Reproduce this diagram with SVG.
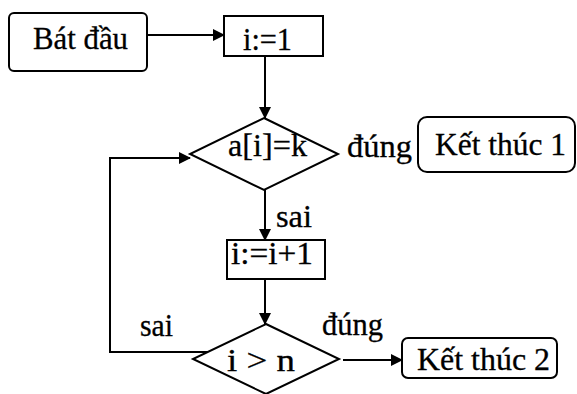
<svg xmlns="http://www.w3.org/2000/svg" width="577" height="394" viewBox="0 0 577 394">
<defs>
<marker id="ah" markerWidth="12" markerHeight="12" refX="11" refY="6" orient="auto" markerUnits="userSpaceOnUse">
<path d="M0,0 L12,6 L0,12 Z" fill="#000"/>
</marker>
<style>
.box{fill:#fff;stroke:#000;stroke-width:2}
.ln{fill:none;stroke:#000;stroke-width:2}
text{font-family:"Liberation Serif","Times New Roman",serif;font-size:31px;fill:#000;stroke:#000;stroke-width:0.3}
</style>
</defs>
<rect width="577" height="394" fill="#fff"/>
<g id="connectors">
<line class="ln" x1="147" y1="35" x2="224" y2="35" marker-end="url(#ah)"/>
<line class="ln" x1="265" y1="56" x2="265" y2="118" marker-end="url(#ah)"/>
<line class="ln" x1="265" y1="190" x2="265" y2="240" marker-end="url(#ah)"/>
<line class="ln" x1="265" y1="279" x2="265" y2="324" marker-end="url(#ah)"/>
<polyline class="ln" points="212,352 110,352 110,158 190,158" marker-end="url(#ah)"/>
<line class="ln" x1="343" y1="360" x2="402" y2="360" marker-end="url(#ah)"/>
<text x="347" y="157" textLength="65" lengthAdjust="spacingAndGlyphs">đúng</text>
<text x="276" y="227" textLength="36" lengthAdjust="spacingAndGlyphs">sai</text>
<text x="140" y="336" textLength="33" lengthAdjust="spacingAndGlyphs">sai</text>
<text x="322" y="335" textLength="61" lengthAdjust="spacingAndGlyphs">đúng</text>
</g>
<g id="start">
<rect class="box" x="9" y="13" width="138" height="58" rx="5"/>
<text x="33" y="49" textLength="95" lengthAdjust="spacingAndGlyphs">Bát đầu</text>
</g>
<g id="init">
<rect class="box" x="224" y="16" width="99" height="40"/>
<text x="243" y="50" textLength="49" lengthAdjust="spacingAndGlyphs">i:=1</text>
</g>
<g id="check">
<polygon class="box" points="264,118 338,154 264,190 190,154"/>
<text x="228" y="156" textLength="79" lengthAdjust="spacingAndGlyphs">a[i]=k</text>
</g>
<g id="end1">
<rect class="box" x="418" y="117" width="157" height="55" rx="9" stroke-width="1.5"/>
<text x="435" y="155" textLength="131" lengthAdjust="spacingAndGlyphs">Kết thúc 1</text>
</g>
<g id="inc">
<rect class="box" x="227" y="240" width="98" height="39"/>
<text x="231" y="264" textLength="82" lengthAdjust="spacingAndGlyphs">i:=i+1</text>
</g>
<g id="cond">
<polygon class="box" points="266,324 339,359 266,394 193,359"/>
<text x="227" y="371" textLength="68" lengthAdjust="spacingAndGlyphs">i &gt; n</text>
</g>
<g id="end2">
<rect class="box" x="402" y="338" width="155" height="40" rx="6" stroke-width="1.5"/>
<text x="417" y="370" textLength="133" lengthAdjust="spacingAndGlyphs">Kết thúc 2</text>
</g>
</svg>
